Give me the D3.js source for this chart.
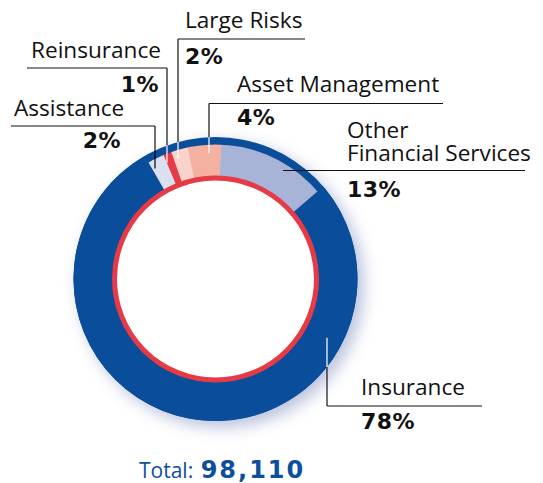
<!DOCTYPE html>
<html>
<head>
<meta charset="utf-8">
<script src="https://cdn.jsdelivr.net/npm/d3@7"></script>
<style>
  body { margin: 0; background: #fff; }
  svg { display: block; }
</style>
</head>
<body>
<script>
// data
const categories = ["Assistance", "Reinsurance", "Large Risks", "Asset Management", "Other Financial Services", "Insurance"];
const shares = [2, 1, 2, 4, 13, 78];
const pctLabels = ["2%", "1%", "2%", "4%", "13%", "78%"];
const totalLabel = "98,110";

const colors = ["#dbe0f0", "#e63a46", "#f9d3ca", "#f4b0a0", "#a8b3d8", "#0a4e9b"];

const width = 543, height = 483;
const cx = 215.5, cy = 279;
const rOuter = 142, rBand = 135, rInner = 101;

const svg = d3.select("body").append("svg")
  .attr("width", width)
  .attr("height", height);

const defs = svg.append("defs");
const f = defs.append("filter").attr("id", "shadow")
  .attr("x", "-30%").attr("y", "-30%").attr("width", "160%").attr("height", "160%");
f.append("feGaussianBlur").attr("stdDeviation", 8);

const g = svg.append("g").attr("transform", `translate(${cx},${cy})`);

// soft shadow round the ring
g.append("circle")
  .attr("cx", 6).attr("cy", 6).attr("r", rOuter)
  .attr("fill", "#9aa6cc")
  .attr("opacity", 0.7)
  .attr("filter", "url(#shadow)");

const pie = d3.pie().sort(null).value(d => d)
  .startAngle(-29.9 * Math.PI / 180)
  .endAngle(-29.9 * Math.PI / 180 + 2 * Math.PI);
const arcs = pie(shares);
const last = shares.length - 1;

const arc = d3.arc()
  .innerRadius(rInner)
  .outerRadius((d, i) => i === last ? rOuter : rBand);

g.selectAll("path.slice")
  .data(arcs)
  .enter().append("path")
  .attr("class", "slice")
  .attr("fill", (d, i) => colors[i])
  .attr("d", (d, i) => arc(d, i));

// blue rim over the small slices
g.append("path")
  .attr("fill", colors[last])
  .attr("d", d3.arc().innerRadius(rBand - 0.5).outerRadius(rOuter)({ startAngle: 0, endAngle: 2 * Math.PI }));

// red inner circle
g.append("circle")
  .attr("r", rInner)
  .attr("fill", "#fff")
  .attr("stroke", "#e63a46")
  .attr("stroke-width", 5);

// labels (layout of annotations)
const labelLayout = [
  { lines: ["Assistance"], nx: 14, ny: [116], px: 121, py: 148, anchor: "end", hy: 126, hx0: 11, hx1: 155, vx: 155, inner: "#000" },
  { lines: ["Reinsurance"], nx: 31, ny: [58], px: 159, py: 92, anchor: "end", hy: 68, hx0: 27, hx1: 167, vx: 167, inner: "#fff" },
  { lines: ["Large Risks"], nx: 185, ny: [28], px: 185, py: 64, anchor: "start", hy: 39, hx0: 178, hx1: 305, vx: 178, inner: "#fff" },
  { lines: ["Asset Management"], nx: 237, ny: [92], px: 237, py: 125, anchor: "start", hy: 103.5, hx0: 209, hx1: 443, vx: 209, inner: "#fff" },
  { lines: ["Other", "Financial Services"], nx: 347, ny: [138, 161], px: 347, py: 197, anchor: "start", hy: 170.5, hx0: 283, hx1: 525, vx: null },
  { lines: ["Insurance"], nx: 361, ny: [395], px: 361, py: 429, anchor: "start", hy: 406, hx0: 327, hx1: 482, vx: 327, inner: "#fff", below: true }
];

const lab = svg.append("g");
const rEnd = 126;

labelLayout.forEach((L, i) => {
  lab.append("line")
    .attr("x1", L.hx0).attr("x2", L.hx1)
    .attr("y1", L.hy).attr("y2", L.hy)
    .attr("stroke", "#111").attr("stroke-width", 1.2);

  if (L.vx !== null) {
    const dx = L.vx - cx;
    const sgn = L.below ? 1 : -1;
    const yEnd = cy + sgn * Math.sqrt(rEnd * rEnd - dx * dx);
    const yRim = cy + sgn * Math.sqrt(rOuter * rOuter - dx * dx);
    lab.append("line")
      .attr("x1", L.vx).attr("x2", L.vx)
      .attr("y1", L.hy).attr("y2", yRim)
      .attr("stroke", "#111").attr("stroke-width", 1.2);
    lab.append("line")
      .attr("x1", L.vx).attr("x2", L.vx)
      .attr("y1", yRim).attr("y2", yEnd)
      .attr("stroke", L.inner).attr("stroke-width", 1.2);
  }

  L.lines.forEach((t, k) => {
    lab.append("text")
      .attr("x", L.nx).attr("y", L.ny[k])
      .attr("font-family", "'Open Sans', sans-serif")
      .attr("font-size", 22.6)
      .attr("fill", "#111")
      .text(t);
  });

  lab.append("text")
    .attr("x", L.px).attr("y", L.py)
    .attr("text-anchor", L.anchor)
    .attr("font-family", "'DejaVu Sans', sans-serif")
    .attr("font-weight", "bold")
    .attr("font-size", 22)
    .attr("letter-spacing", 0.5)
    .attr("fill", "#111")
    .text(pctLabels[i]);
});

// total
const tot = svg.append("text")
  .attr("x", 139).attr("y", 478)
  .attr("fill", "#0d4f9c");
tot.append("tspan")
  .attr("font-family", "'Open Sans', sans-serif")
  .attr("font-size", 21)
  .text("Total: ");
tot.append("tspan")
  .attr("font-family", "'DejaVu Sans', sans-serif")
  .attr("font-weight", "bold")
  .attr("font-size", 24)
  .attr("letter-spacing", 2)
  .attr("dx", 2)
  .text(totalLabel);
</script>
</body>
</html>
